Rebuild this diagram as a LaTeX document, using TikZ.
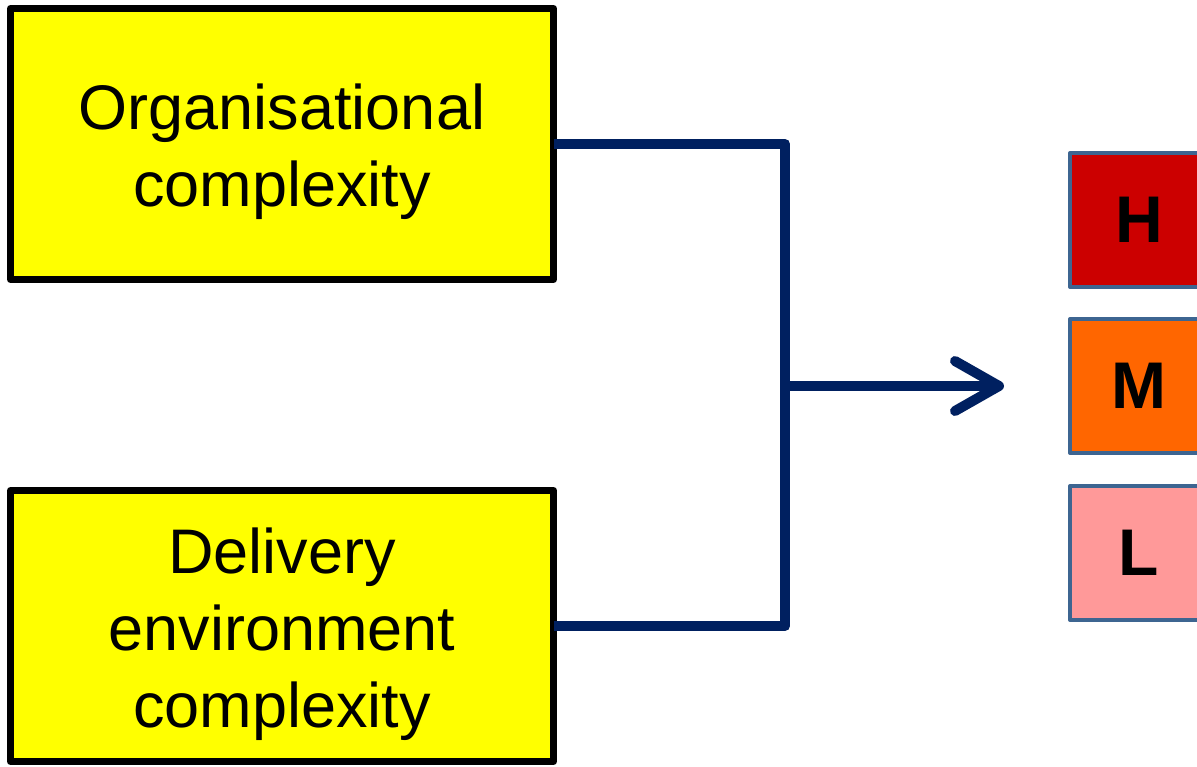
\documentclass[tikz,border=0pt]{standalone}
\usepackage{fontspec}
\setmainfont{Liberation Sans}
\usetikzlibrary{arrows.meta}
\definecolor{navy}{HTML}{002060}
\definecolor{rimblue}{HTML}{3D6591}
\definecolor{hred}{HTML}{CC0000}
\definecolor{morange}{HTML}{FF6600}
\definecolor{lpink}{HTML}{FF9999}
\definecolor{boxyellow}{RGB}{255,255,0}
\tikzset{
  factor/.style={draw=black, fill=boxyellow, line width=7pt, line join=round,
    minimum width=543pt, minimum height=271pt, inner sep=0pt, align=center,
    font=\fontsize{63}{77}\selectfont},
  level/.style={draw=rimblue, line width=4pt, line join=round,
    minimum width=138pt, minimum height=134pt, inner sep=0pt,
    font=\fontsize{66}{70}\selectfont\bfseries},
  conn/.style={draw=navy, line width=10pt, line join=round},
}
\begin{document}
\begin{tikzpicture}[x=1pt,y=-1pt]
\useasboundingbox (0,0) rectangle (1197,766);
\clip (0,0) rectangle (1197,766);
\fill[white] (0,0) rectangle (1197,766);
\node[factor] (o1) at (282,144) {\rule{0pt}{62pt}Organisational\\complexity};
\node[factor] (o2) at (282,626) {\rule{0pt}{62pt}Delivery\\environment\\complexity};
\node[level, fill=hred] (H) at (1139,220) {H};
\node[level, fill=morange] (M) at (1139,386) {M};
\node[level, fill=lpink] (L) at (1139,553) {L};
\coordinate (jx) at (785,0);
\draw[conn] ([xshift=-3pt]o1.east) -- (o1.east -| jx) -- (o2.east -| jx) -- ([xshift=-3pt]o2.east);
\draw[conn, -{Straight Barb[length=44pt, width=50pt, round]}] (jx |- M.west) -- ([xshift=-64pt]M.west);
\end{tikzpicture}
\end{document}
